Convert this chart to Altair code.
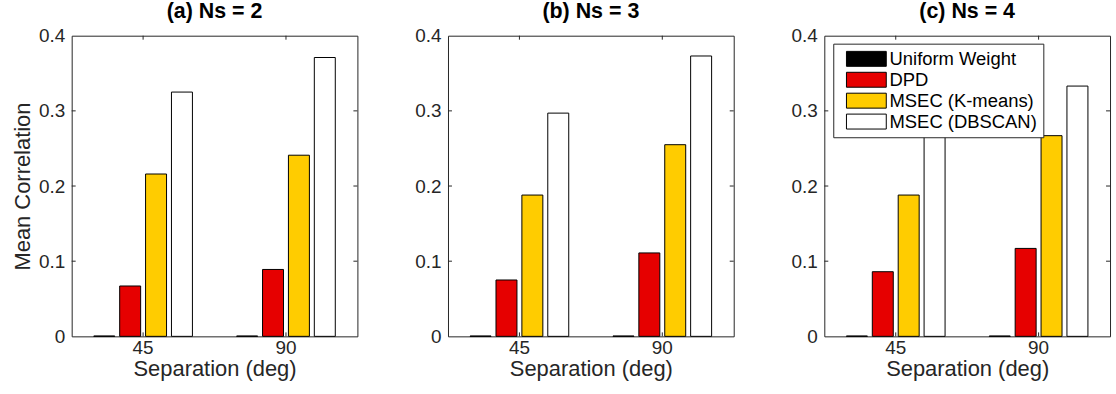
import altair as alt
import pandas as pd

# ---------------- data ----------------
separations = ["45", "90"]
methods = ["Uniform Weight", "DPD", "MSEC (K-means)", "MSEC (DBSCAN)"]
colors = ["#000000", "#E60000", "#FFCC00", "#FFFFFF"]

panel_titles = ["(a) Ns = 2", "(b) Ns = 3", "(c) Ns = 4"]

# values per panel: for each method, [45, 90]
ns2_uniform = [0.0005, 0.0005]
ns2_dpd = [0.067, 0.089]
ns2_kmeans = [0.216, 0.241]
ns2_dbscan = [0.325, 0.371]

ns3_uniform = [0.0005, 0.0005]
ns3_dpd = [0.075, 0.111]
ns3_kmeans = [0.188, 0.255]
ns3_dbscan = [0.297, 0.373]

ns4_uniform = [0.0005, 0.0005]
ns4_dpd = [0.086, 0.117]
ns4_kmeans = [0.188, 0.267]
ns4_dbscan = [0.305, 0.333]

y_ticks = [0, 0.1, 0.2, 0.3, 0.4]
y_tick_inner = [0.1, 0.2, 0.3]

panels = [
    [ns2_uniform, ns2_dpd, ns2_kmeans, ns2_dbscan],
    [ns3_uniform, ns3_dpd, ns3_kmeans, ns3_dbscan],
    [ns4_uniform, ns4_dpd, ns4_kmeans, ns4_dbscan],
]

W, H = 287, 302
FONT = "Liberation Sans"
TXT = "#262626"

legend_box_path = "M-0.25,-0.9375 L4.75,-0.9375 L4.75,0.9375 L-0.25,0.9375 Z"


def make_panel(idx):
    rows = []
    for m, series in zip(methods, panels[idx]):
        for s, v in zip(separations, series):
            rows.append({"Separation": s, "Method": m, "Value": v})
    df = pd.DataFrame(rows)

    if idx == 2:
        legend = alt.Legend(
            orient="none", legendX=9, legendY=8, title=None,
            symbolType=legend_box_path, symbolSize=256,
            symbolStrokeColor="black", symbolStrokeWidth=1,
            symbolOpacity=1, symbolFillColor="white",
            labelFont=FONT, labelFontSize=18.5, labelColor="black",
            labelOffset=32, rowPadding=1,
            fillColor="white", strokeColor="#262626",
            padding=6, labelLimit=300,
        )
    else:
        legend = None

    x_enc = alt.X(
        "Separation:N", sort=separations,
        scale=alt.Scale(paddingInner=0.275, paddingOuter=0.1375),
        axis=alt.Axis(
            title="Separation (deg)", labelAngle=0, ticks=False, domain=False,
            labelFont=FONT, labelFontSize=19, labelColor=TXT, labelPadding=2,
            titleFont=FONT, titleFontSize=22, titleFontWeight="normal",
            titleColor=TXT, titlePadding=1,
        ),
    )
    y_axis = alt.Axis(
        values=y_ticks, format=".1~f", ticks=False, domain=False, grid=False,
        labelFont=FONT, labelFontSize=19, labelColor=TXT, labelPadding=7,
        title="Mean Correlation" if idx == 0 else None,
        titleFont=FONT, titleFontSize=22, titleFontWeight="normal",
        titleColor=TXT, titlePadding=4,
    )
    y_scale = alt.Scale(domain=[0, 0.4], nice=False)

    bars = alt.Chart(df).mark_bar(
        stroke="black", strokeWidth=1, opacity=1
    ).encode(
        x=x_enc,
        xOffset=alt.XOffset(
            "Method:N", sort=methods,
            scale=alt.Scale(paddingInner=0.19, paddingOuter=0.095),
        ),
        y=alt.Y("Value:Q", scale=y_scale, axis=y_axis),
        fill=alt.Fill(
            "Method:N", sort=methods,
            scale=alt.Scale(domain=methods, range=colors),
            legend=legend,
        ),
    )

    tdf = pd.DataFrame({"t": y_tick_inner})
    yt_left = alt.Chart(tdf).mark_rule(color=TXT, strokeWidth=1).encode(
        y=alt.Y("t:Q", scale=y_scale), x=alt.value(0), x2=alt.value(4)
    )
    yt_right = alt.Chart(tdf).mark_rule(color=TXT, strokeWidth=1).encode(
        y=alt.Y("t:Q", scale=y_scale), x=alt.value(W - 4), x2=alt.value(W)
    )
    sdf = pd.DataFrame({"Separation": separations})
    xt_top = alt.Chart(sdf).mark_rule(color=TXT, strokeWidth=1).encode(
        x=alt.X("Separation:N", sort=separations, bandPosition=0.5),
        y=alt.value(0), y2=alt.value(4),
    )
    xt_bot = alt.Chart(sdf).mark_rule(color=TXT, strokeWidth=1).encode(
        x=alt.X("Separation:N", sort=separations, bandPosition=0.5),
        y=alt.value(H - 4), y2=alt.value(H),
    )

    layer = alt.layer(bars, yt_left, yt_right, xt_top, xt_bot).properties(
        width=W, height=H,
        title=alt.TitleParams(
            panel_titles[idx], font=FONT, fontSize=21.5, fontWeight="bold",
            color="black", offset=4, anchor="middle",
        ),
    )
    return layer


chart = alt.hconcat(
    make_panel(0), make_panel(1), make_panel(2), spacing=56
).resolve_scale(fill="independent").resolve_legend(fill="independent").properties(
    padding={"left": 11, "top": 0, "right": 5, "bottom": 5},
    background="white",
).configure_view(
    stroke=TXT, strokeWidth=1
)

chart.save("out.html", embed_options={"renderer": "svg", "actions": False})
